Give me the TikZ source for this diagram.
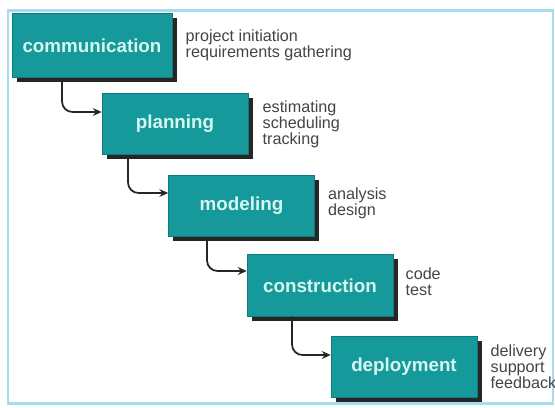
\documentclass[tikz,border=0pt]{standalone}
\usepackage{fontspec}
\setmainfont{Liberation Sans}
\usetikzlibrary{positioning,shadows,arrows.meta}

\definecolor{phasefill}{HTML}{15999A}
\definecolor{phasetext}{HTML}{D6F6F2}
\definecolor{notetext}{HTML}{444444}
\definecolor{framecol}{HTML}{A6DBF2}

\tikzset{
  phase/.style={fill=phasefill, draw=phasefill!80!black, line width=0.4pt,
    minimum width=2.92cm, minimum height=1.23cm, inner sep=0pt,
    text=phasetext, font=\fontsize{10.7}{12}\selectfont\bfseries,
    drop shadow={shadow xshift=2.6pt, shadow yshift=-2.6pt, fill=black!85, opacity=1}},
  note/.style={inner sep=0pt, align=left, text=notetext,
    font=\fontsize{9.2}{9.1}\selectfont},
  flow/.style={line width=1pt, rounded corners=6pt, draw=black!85,
    -{Stealth[length=5pt,width=4.5pt]}}
}

\begin{document}
\begin{tikzpicture}[x=0.02cm,y=-0.02cm]
\useasboundingbox (0,0) rectangle (555,407);
\draw[line width=1.7pt,color=framecol] (8,10) rectangle (553,403);

% the five phases, stepping down to the right
\node[phase, minimum width=3.2cm, minimum height=1.28cm] (comm) at (92,45.5) {communication};
\node[phase] (plan) at (175,124) {planning};
\node[phase] (model) at (241.5,206) {modeling};
\node[phase] (constr) at (320,285.5) {construction};
\node[phase] (deploy) at (404,367) {deployment};

% activities beside each phase
\node[note, right=0.26cm of comm] (commtxt) {project initiation\\requirements gathering};
\node[note, right=0.28cm of plan] (plantxt) {estimating\\scheduling\\tracking};
\node[note, right=0.26cm of model, yshift=0.05cm] (modeltxt) {analysis\\design};
\node[note, right=0.24cm of constr, yshift=0.07cm] (constrtxt) {code\\test};
\node[note, right=0.26cm of deploy] (deploytxt) {delivery\\support\\feedback};

% hand-offs
\draw[flow] (comm.south -| 62,0) |- ([yshift=0.24cm]plan.west);
\draw[flow] (plan.south -| 128,0) |- ([yshift=0.26cm]model.west);
\draw[flow] (model.south -| 207,0) |- ([yshift=0.29cm]constr.west);
\draw[flow] (constr.south -| 292,0) |- ([yshift=0.24cm]deploy.west);
\end{tikzpicture}
\end{document}
